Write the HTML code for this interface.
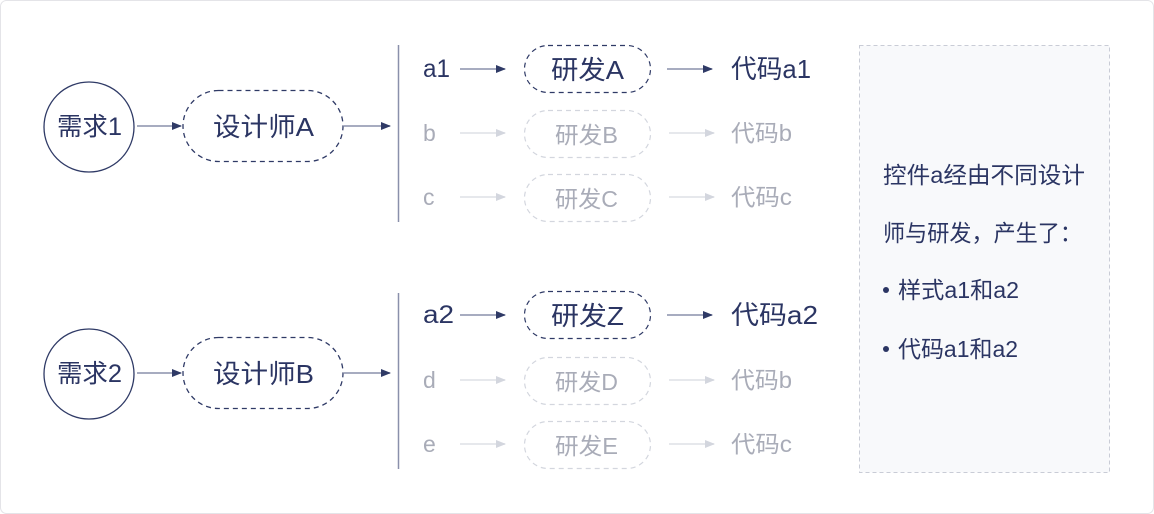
<!DOCTYPE html>
<html><head><meta charset="utf-8"><style>
html,body{margin:0;padding:0;background:#fff}
svg{display:block}
text{font-family:"Liberation Sans","Noto Sans CJK SC",sans-serif;dominant-baseline:central}
</style></head><body>
<svg width="1154" height="514" viewBox="0 0 1154 514">
<defs>
<marker id="ad" markerWidth="10" markerHeight="10" refX="9" refY="5" orient="auto" markerUnits="userSpaceOnUse"><path d="M0,1 L10,5 L0,9 z" fill="#2f3a66"/></marker>
<marker id="al" markerWidth="10" markerHeight="10" refX="9" refY="5" orient="auto" markerUnits="userSpaceOnUse"><path d="M0,1 L10,5 L0,9 z" fill="#d3d6de"/></marker>
</defs>
<rect x="0.5" y="0.5" width="1153" height="513" rx="6" fill="#fff" stroke="#e4e4e8"/>
<rect x="859.5" y="45.5" width="250" height="427" fill="#f8f9fb" stroke="#c9ccd6" stroke-dasharray="4,3"/>
<g font-size="23" fill="#2b3563">
<text x="883" y="175" textLength="202" lengthAdjust="spacingAndGlyphs">控件a经由不同设计</text>
<text x="883" y="233" textLength="199" lengthAdjust="spacingAndGlyphs">师与研发，产生了：</text>
<circle cx="886" cy="290" r="3" fill="#2b3563"/>
<text x="898" y="290" textLength="121" lengthAdjust="spacingAndGlyphs">样式a1和a2</text>
<circle cx="886" cy="349" r="3" fill="#2b3563"/>
<text x="898" y="349" textLength="120" lengthAdjust="spacingAndGlyphs">代码a1和a2</text>
</g>

<g>
<circle cx="89" cy="127" r="45" fill="#fff" stroke="#2f3a66" stroke-width="1.3"/>
<text x="57" y="127" font-size="25" fill="#2b3563" textLength="65" lengthAdjust="spacingAndGlyphs">需求1</text>
<line x1="137" y1="126" x2="181" y2="126" stroke="#8a90ab" stroke-width="1.5" marker-end="url(#ad)"/>
<rect x="183" y="90.5" width="160" height="71" rx="35.5" fill="#fff" stroke="#2f3a66" stroke-width="1.3" stroke-dasharray="5,4"/>
<text x="213" y="127" font-size="26" fill="#2b3563" textLength="101" lengthAdjust="spacingAndGlyphs">设计师A</text>
<line x1="344" y1="126" x2="390" y2="126" stroke="#8a90ab" stroke-width="1.5" marker-end="url(#ad)"/>
<line x1="398.5" y1="45" x2="398.5" y2="222" stroke="#8a90ab" stroke-width="1.5"/>

<text x="423" y="69" font-size="25" fill="#2b3563" textLength="27" lengthAdjust="spacingAndGlyphs">a1</text>
<line x1="460" y1="69" x2="505" y2="69" stroke="#8a90ab" stroke-width="1.5" marker-end="url(#ad)"/>
<rect x="524.5" y="45.5" width="126" height="47" rx="23.5" fill="#fff" stroke="#2f3a66" stroke-width="1.2" stroke-dasharray="5,4"/>
<text x="551" y="70" font-size="26" fill="#2b3563" textLength="73" lengthAdjust="spacingAndGlyphs">研发A</text>
<line x1="667" y1="69" x2="712" y2="69" stroke="#8a90ab" stroke-width="1.5" marker-end="url(#ad)"/>
<text x="731" y="69" font-size="26" fill="#2b3563" textLength="80" lengthAdjust="spacingAndGlyphs">代码a1</text>

<text x="423" y="133" font-size="23" fill="#a9acb8">b</text>
<line x1="460" y1="133" x2="505" y2="133" stroke="#dde0e6" stroke-width="1.5" marker-end="url(#al)"/>
<rect x="524.5" y="110.5" width="126" height="47" rx="23.5" fill="#fff" stroke="#d3d6de" stroke-width="1.2" stroke-dasharray="5,4"/>
<text x="555" y="135" font-size="23" fill="#a9acb8" textLength="63" lengthAdjust="spacingAndGlyphs">研发B</text>
<line x1="669" y1="133" x2="714" y2="133" stroke="#dde0e6" stroke-width="1.5" marker-end="url(#al)"/>
<text x="731" y="133" font-size="23" fill="#a9acb8" textLength="61" lengthAdjust="spacingAndGlyphs">代码b</text>

<text x="423" y="197" font-size="23" fill="#a9acb8">c</text>
<line x1="460" y1="197" x2="505" y2="197" stroke="#dde0e6" stroke-width="1.5" marker-end="url(#al)"/>
<rect x="524.5" y="174.5" width="126" height="47" rx="23.5" fill="#fff" stroke="#d3d6de" stroke-width="1.2" stroke-dasharray="5,4"/>
<text x="555" y="199" font-size="23" fill="#a9acb8" textLength="63" lengthAdjust="spacingAndGlyphs">研发C</text>
<line x1="669" y1="197" x2="714" y2="197" stroke="#dde0e6" stroke-width="1.5" marker-end="url(#al)"/>
<text x="731" y="197" font-size="23" fill="#a9acb8" textLength="61" lengthAdjust="spacingAndGlyphs">代码c</text>
</g>

<g>
<circle cx="89" cy="374" r="45" fill="#fff" stroke="#2f3a66" stroke-width="1.3"/>
<text x="57" y="374" font-size="25" fill="#2b3563" textLength="65" lengthAdjust="spacingAndGlyphs">需求2</text>
<line x1="137" y1="373" x2="181" y2="373" stroke="#8a90ab" stroke-width="1.5" marker-end="url(#ad)"/>
<rect x="183" y="337.5" width="160" height="71" rx="35.5" fill="#fff" stroke="#2f3a66" stroke-width="1.3" stroke-dasharray="5,4"/>
<text x="213" y="374" font-size="26" fill="#2b3563" textLength="101" lengthAdjust="spacingAndGlyphs">设计师B</text>
<line x1="344" y1="373" x2="390" y2="373" stroke="#8a90ab" stroke-width="1.5" marker-end="url(#ad)"/>
<line x1="398.5" y1="293" x2="398.5" y2="469" stroke="#8a90ab" stroke-width="1.5"/>

<text x="423" y="315" font-size="25" fill="#2b3563" textLength="31" lengthAdjust="spacingAndGlyphs">a2</text>
<line x1="460" y1="315" x2="505" y2="315" stroke="#8a90ab" stroke-width="1.5" marker-end="url(#ad)"/>
<rect x="524.5" y="291.5" width="126" height="47" rx="23.5" fill="#fff" stroke="#2f3a66" stroke-width="1.2" stroke-dasharray="5,4"/>
<text x="551" y="316" font-size="26" fill="#2b3563" textLength="73" lengthAdjust="spacingAndGlyphs">研发Z</text>
<line x1="667" y1="315" x2="712" y2="315" stroke="#8a90ab" stroke-width="1.5" marker-end="url(#ad)"/>
<text x="731" y="315" font-size="26" fill="#2b3563" textLength="87" lengthAdjust="spacingAndGlyphs">代码a2</text>

<text x="423" y="380" font-size="23" fill="#a9acb8">d</text>
<line x1="460" y1="380" x2="505" y2="380" stroke="#dde0e6" stroke-width="1.5" marker-end="url(#al)"/>
<rect x="524.5" y="357.5" width="126" height="47" rx="23.5" fill="#fff" stroke="#d3d6de" stroke-width="1.2" stroke-dasharray="5,4"/>
<text x="555" y="382" font-size="23" fill="#a9acb8" textLength="63" lengthAdjust="spacingAndGlyphs">研发D</text>
<line x1="669" y1="380" x2="714" y2="380" stroke="#dde0e6" stroke-width="1.5" marker-end="url(#al)"/>
<text x="731" y="380" font-size="23" fill="#a9acb8" textLength="61" lengthAdjust="spacingAndGlyphs">代码b</text>

<text x="423" y="444" font-size="23" fill="#a9acb8">e</text>
<line x1="460" y1="444" x2="505" y2="444" stroke="#dde0e6" stroke-width="1.5" marker-end="url(#al)"/>
<rect x="524.5" y="421.5" width="126" height="47" rx="23.5" fill="#fff" stroke="#d3d6de" stroke-width="1.2" stroke-dasharray="5,4"/>
<text x="555" y="446" font-size="23" fill="#a9acb8" textLength="63" lengthAdjust="spacingAndGlyphs">研发E</text>
<line x1="669" y1="444" x2="714" y2="444" stroke="#dde0e6" stroke-width="1.5" marker-end="url(#al)"/>
<text x="731" y="444" font-size="23" fill="#a9acb8" textLength="61" lengthAdjust="spacingAndGlyphs">代码c</text>
</g>
</svg>
</body></html>
